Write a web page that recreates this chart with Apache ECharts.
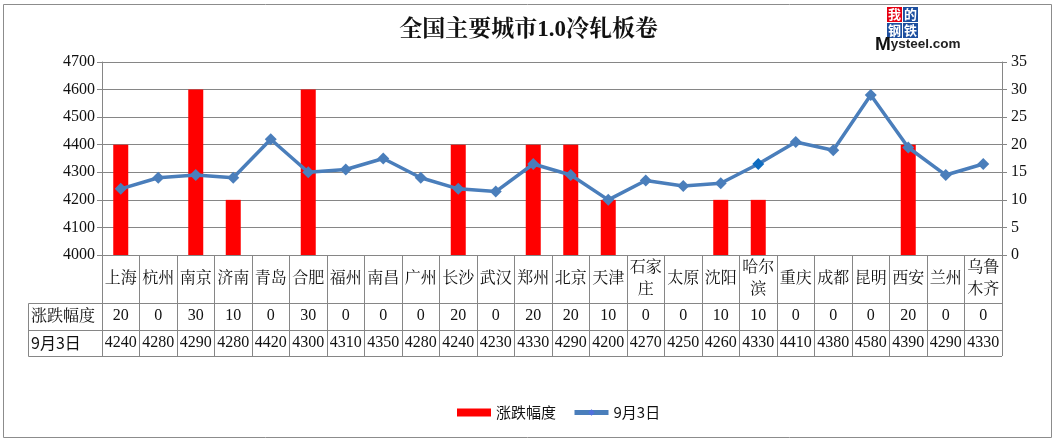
<!DOCTYPE html>
<html lang="zh">
<head>
    <meta charset="UTF-8">
    <title>全国主要城市1.0冷轧板卷</title>
    <script src="https://cdn.jsdelivr.net/npm/echarts@6/dist/echarts.min.js"></script>
    <style>
        html, body { margin: 0; padding: 0; background: #fff; }
    </style>
</head>
<body>
    <div id="main" style="width: 1057px;height:443px;"></div>
    <script type="text/javascript">
        // chart data
        var cities = ['上海', '杭州', '南京', '济南', '青岛', '合肥', '福州', '南昌', '广州', '长沙', '武汉', '郑州',
                      '北京', '天津', '石家\n庄', '太原', '沈阳', '哈尔\n滨', '重庆', '成都', '昆明', '西安', '兰州', '乌鲁\n木齐'];
        var change = [20, 0, 30, 10, 0, 30, 0, 0, 0, 20, 0, 20, 20, 10, 0, 0, 10, 10, 0, 0, 0, 20, 0, 0];
        var price = [4240, 4280, 4290, 4280, 4420, 4300, 4310, 4350, 4280, 4240, 4230, 4330,
                     4290, 4200, 4270, 4250, 4260, 4330, 4410, 4380, 4580, 4390, 4290, 4330];
        var changeName = '涨跌幅度';
        var priceName = '9月3日';

        var serifFont = "'Liberation Serif', 'Noto Serif CJK SC', 'Noto Sans CJK SC', serif";
        var sansFont = "'Noto Sans CJK SC', 'Noto Sans', sans-serif";
        var gridColor = '#868686';

        var myChart = echarts.init(document.getElementById('main'));

        var option = {
            backgroundColor: '#fff',
            animation: false,
            title: {
                left: 'center',
                top: 14,
                text: '全国主要城市1.0冷轧板卷',
                textStyle: { fontFamily: serifFont, fontSize: 23, fontWeight: 'bold', color: '#111' }
            },
            legend: {
                top: 400,
                left: 452,
                itemWidth: 34,
                itemHeight: 8,
                itemGap: 16,
                textStyle: { fontFamily: sansFont, fontSize: 15, color: '#111' },
                data: [
                    { name: changeName, icon: 'rect' },
                    { name: priceName, lineStyle: { width: 5 } }
                ]
            },
            grid: { left: 102, right: 55, top: 62, bottom: 188 },
            xAxis: [
                {
                    type: 'category',
                    data: cities,
                    position: 'bottom',
                    axisLine: { show: true, lineStyle: { color: gridColor } },
                    axisTick: { show: true, interval: 0, length: 101, lineStyle: { color: gridColor } },
                    axisLabel: {
                        interval: 0, margin: 24, verticalAlign: 'middle', lineHeight: 22,
                        fontFamily: serifFont, fontSize: 16, color: '#111'
                    }
                },
                {
                    type: 'category',
                    data: cities,
                    position: 'bottom',
                    offset: 48,
                    axisLine: { show: false },
                    axisTick: { show: false },
                    axisLabel: {
                        interval: 0, margin: 13, verticalAlign: 'middle',
                        fontFamily: serifFont, fontSize: 16, color: '#111',
                        formatter: function (v, i) { return String(change[i]); }
                    }
                },
                {
                    type: 'category',
                    data: cities,
                    position: 'bottom',
                    offset: 75,
                    axisLine: { show: false },
                    axisTick: { show: false },
                    axisLabel: {
                        interval: 0, margin: 13, verticalAlign: 'middle',
                        fontFamily: serifFont, fontSize: 16, color: '#111',
                        formatter: function (v, i) { return String(price[i]); }
                    }
                }
            ],
            yAxis: [
                {
                    type: 'value',
                    min: 4000,
                    max: 4700,
                    interval: 100,
                    axisLine: { show: true, lineStyle: { color: gridColor } },
                    axisTick: { show: true, length: 5, lineStyle: { color: gridColor } },
                    axisLabel: {
                        margin: 7, fontFamily: serifFont, fontSize: 16, color: '#111',
                        formatter: function (v) { return String(v); }
                    },
                    splitLine: { show: true, lineStyle: { color: gridColor } }
                },
                {
                    type: 'value',
                    min: 0,
                    max: 35,
                    interval: 5,
                    axisLine: { show: true, lineStyle: { color: gridColor } },
                    axisTick: { show: true, length: 5, lineStyle: { color: gridColor } },
                    axisLabel: { margin: 9, fontFamily: serifFont, fontSize: 16, color: '#111' },
                    splitLine: { show: false }
                }
            ],
            series: [
                {
                    name: changeName,
                    type: 'bar',
                    yAxisIndex: 1,
                    barWidth: 15,
                    itemStyle: { color: '#ff0000' },
                    data: change
                },
                {
                    name: priceName,
                    type: 'line',
                    yAxisIndex: 0,
                    symbol: 'diamond',
                    symbolSize: 12,
                    lineStyle: { color: '#4a7ebb', width: 3.5 },
                    itemStyle: {
                        color: function (params) {
                            // 哈尔滨 point is highlighted in the original
                            return params.dataIndex === 17 ? '#0f6cc0' : '#4a7ebb';
                        }
                    },
                    data: price
                }
            ],
            graphic: [
                // outer chart border
                { type: 'rect', shape: { x: 3.5, y: 4.5, width: 1048, height: 433 },
                  style: { fill: 'none', stroke: '#8c8c8c', lineWidth: 1 }, silent: true },
                // data table frame (header column and row lines)
                { type: 'line', shape: { x1: 28.5, y1: 303.5, x2: 1002, y2: 303.5 }, style: { stroke: gridColor } },
                { type: 'line', shape: { x1: 28.5, y1: 330.5, x2: 1002, y2: 330.5 }, style: { stroke: gridColor } },
                { type: 'line', shape: { x1: 28.5, y1: 356.5, x2: 1002, y2: 356.5 }, style: { stroke: gridColor } },
                { type: 'line', shape: { x1: 28.5, y1: 303.5, x2: 28.5, y2: 356.5 }, style: { stroke: gridColor } },
                { type: 'text', x: 31, y: 317,
                  style: { text: changeName, fontFamily: serifFont, fontSize: 16, fill: '#111', verticalAlign: 'middle' } },
                { type: 'text', x: 31, y: 343,
                  style: { text: priceName, fontFamily: sansFont, fontSize: 16, fill: '#111', verticalAlign: 'middle' } },
                // Mysteel logo
                {
                    type: 'group',
                    left: 875,
                    top: 7,
                    children: [
                        { type: 'rect', shape: { x: 12, y: 0, width: 15, height: 15 }, style: { fill: '#e60012' } },
                        { type: 'rect', shape: { x: 28, y: 0, width: 15, height: 15 }, style: { fill: '#1d4f9f' } },
                        { type: 'rect', shape: { x: 12, y: 16, width: 15, height: 15 }, style: { fill: '#1d4f9f' } },
                        { type: 'rect', shape: { x: 28, y: 16, width: 15, height: 15 }, style: { fill: '#1d4f9f' } },
                        { type: 'text', x: 19.5, y: 7.5, style: { text: '我', fill: '#fff', fontSize: 13, fontWeight: 'bold', fontFamily: sansFont, align: 'center', verticalAlign: 'middle' } },
                        { type: 'text', x: 35.5, y: 7.5, style: { text: '的', fill: '#fff', fontSize: 13, fontWeight: 'bold', fontFamily: sansFont, align: 'center', verticalAlign: 'middle' } },
                        { type: 'text', x: 19.5, y: 23.5, style: { text: '钢', fill: '#fff', fontSize: 13, fontWeight: 'bold', fontFamily: sansFont, align: 'center', verticalAlign: 'middle' } },
                        { type: 'text', x: 35.5, y: 23.5, style: { text: '铁', fill: '#fff', fontSize: 13, fontWeight: 'bold', fontFamily: sansFont, align: 'center', verticalAlign: 'middle' } },
                        { type: 'text', x: 0, y: 28,
                          style: { text: '{a|M}{b|ysteel.com}', rich: {
                              a: { fontSize: 19, fontWeight: 'bold', fill: '#111', fontFamily: "'Liberation Sans', sans-serif" },
                              b: { fontSize: 13.5, fontWeight: 'bold', fill: '#222', fontFamily: "'Liberation Sans', sans-serif" }
                          } } }
                    ]
                }
            ]
        };

        myChart.setOption(option);
    </script>
</body>
</html>
